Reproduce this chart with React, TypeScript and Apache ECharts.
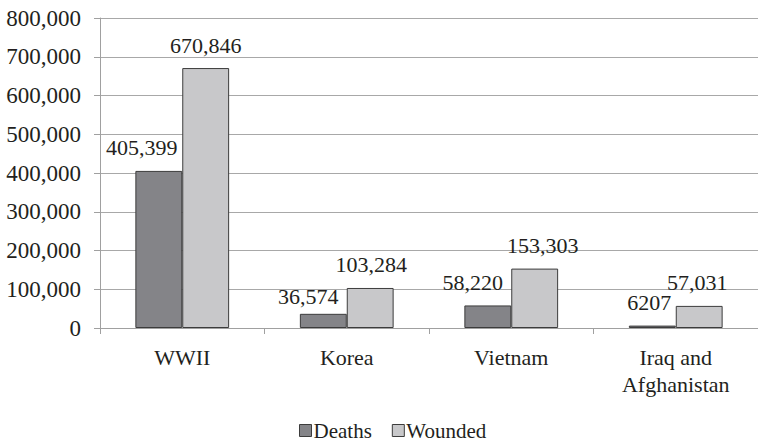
import React, { useEffect, useRef } from "react";
import * as echarts from "echarts";

const categories = ["WWII", "Korea", "Vietnam", "Iraq and\nAfghanistan"];
const deaths = [405399, 36574, 58220, 6207];
const wounded = [670846, 103284, 153303, 57031];
const yTicks = { min: 0, max: 800000, interval: 100000 };

// label nudges [dx, dy] to mimic the original placement
const deathsLabelOffsets = [[-17, 0], [-15, 6], [-15, 0], [-3, 0]];
const woundedLabelOffsets = [[0, 0], [1, 0], [8, 0], [-2, 0]];

const FONT = "'Liberation Serif', 'Times New Roman', serif";
const TEXT = "#231f20";

const fmt = (v: number) => (v < 10000 ? String(v) : v.toLocaleString("en-US"));

export default function App() {
  const ref = useRef<HTMLDivElement>(null);
  useEffect(() => {
    document.body.style.margin = "0";
    if (!ref.current) return;
    const chart = echarts.init(ref.current, null, { renderer: "svg" });
    const labelBase = {
      show: true,
      position: "top",
      distance: 12,
      fontFamily: FONT,
      fontSize: 22,
      color: TEXT,
      formatter: (p: any) => fmt(p.value),
    };
    chart.setOption({
      animation: false,
      textStyle: { fontFamily: FONT, color: TEXT },
      grid: { left: 100, right: -7, top: 18, bottom: 114, containLabel: false },
      legend: {
        left: 299,
        top: 420,
        padding: 0,
        itemWidth: 12,
        itemHeight: 12,
        itemGap: 20,
        itemStyle: { borderColor: "#3c3c3c", borderWidth: 1 },
        textStyle: { fontFamily: FONT, fontSize: 21, color: TEXT, padding: [0, 0, 0, -3] },
        data: [
          { name: "Deaths", icon: "rect" },
          { name: "Wounded", icon: "rect" },
        ],
      },
      xAxis: {
        type: "category",
        data: categories,
        axisLine: { show: true, lineStyle: { color: "#a0a0a0", width: 1 } },
        axisTick: { show: true, length: 6, lineStyle: { color: "#a0a0a0" } },
        axisLabel: {
          margin: 16,
          fontFamily: FONT,
          fontSize: 22,
          lineHeight: 27,
          color: TEXT,
        },
      },
      yAxis: {
        type: "value",
        min: yTicks.min,
        max: yTicks.max,
        interval: yTicks.interval,
        axisLine: { show: true, lineStyle: { color: "#a0a0a0", width: 1 } },
        axisTick: { show: true, length: 6, lineStyle: { color: "#a0a0a0" } },
        splitLine: { show: true, lineStyle: { color: "#a8a8a8", width: 1 } },
        axisLabel: {
          margin: 19,
          fontFamily: FONT,
          fontSize: 23,
          color: TEXT,
          formatter: (v: number) => v.toLocaleString("en-US"),
        },
      },
      series: [
        {
          name: "Deaths",
          type: "bar",
          barGap: "0%",
          barCategoryGap: "43%",
          itemStyle: { color: "#848488", borderColor: "#3c3c3c", borderWidth: 1 },
          data: deaths.map((v, i) => ({
            value: v,
            label: { ...labelBase, offset: deathsLabelOffsets[i] },
          })),
        },
        {
          name: "Wounded",
          type: "bar",
          barGap: "0%",
          barCategoryGap: "43%",
          itemStyle: { color: "#c8c8ca", borderColor: "#3c3c3c", borderWidth: 1 },
          data: wounded.map((v, i) => ({
            value: v,
            label: { ...labelBase, offset: woundedLabelOffsets[i] },
          })),
        },
      ],
    });
    return () => chart.dispose();
  }, []);
  return <div ref={ref} style={{ width: 758, height: 442 }} />;
}
